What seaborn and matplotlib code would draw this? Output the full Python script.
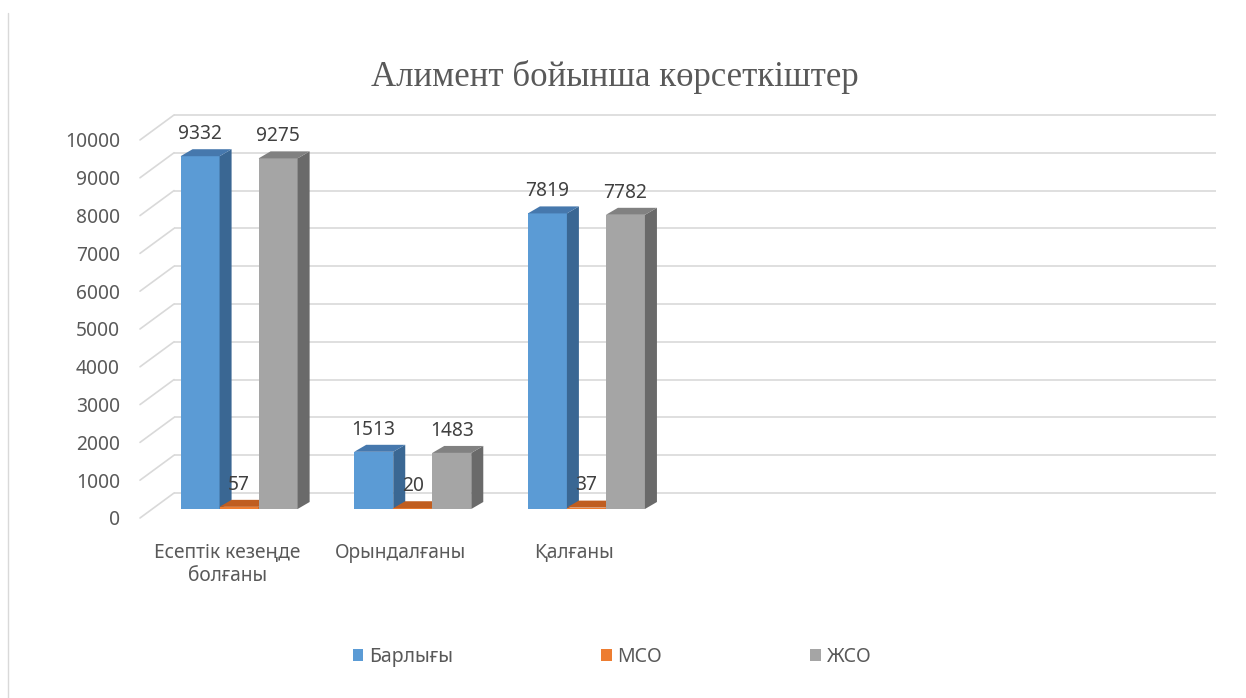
import matplotlib
matplotlib.use('Agg')
import matplotlib.pyplot as plt
import seaborn as sns
import pandas as pd
from matplotlib.patches import Polygon, Patch
from matplotlib.lines import Line2D

# ---- data ----
categories = ['Есептік кезеңде\nболғаны', 'Орындалғаны', 'Қалғаны']
series_names = ['Барлығы', 'МСО', 'ЖСО']
barlygy = [9332, 1513, 7819]
mso = [57, 20, 37]
zhso = [9275, 1483, 7782]
y_ticks = [0, 1000, 2000, 3000, 4000, 5000, 6000, 7000, 8000, 9000, 10000]
title = 'Алимент бойынша көрсеткіштер'

front_colors = ['#5B9BD5', '#ED7D31', '#A5A5A5']
side_colors = ['#3A6793', '#A9531B', '#6A6A6A']
top_colors = ['#4678AD', '#C05D1F', '#818181']

rows = []
for name, vals in zip(series_names, [barlygy, mso, zhso]):
    for c, v in zip(categories, vals):
        rows.append({'cat': c, 'series': name, 'value': v})
df = pd.DataFrame(rows)

sns.set_theme(style='white')
plt.rcParams['font.family'] = ['Noto Sans', 'DejaVu Sans']

W, H = 1246, 698
fig = plt.figure(figsize=(W / 100, H / 100), dpi=100)
fig.patch.set_facecolor('white')
ax = fig.add_axes([140 / W, (H - 518.45) / H, 1076 / W, (518.45 - 104.5) / H])

sns.barplot(data=df, x='cat', y='value', hue='series', order=categories,
            hue_order=series_names, palette=front_colors, width=0.674, gap=0,
            saturation=1, legend=False, errorbar=None, linewidth=0, ax=ax)

# 3D depth geometry (axis units)
DX = 34 / 173.5          # full floor depth in category units
DY = 25 / 0.0378         # full floor depth in value units
T_FRONT, T_BACK = -0.36, 0.64
BDX, BDY = 12 / 173.5, 7 / 0.0378   # bar depth

x_front_left = -0.5 + T_FRONT * DX
x_back_left = -0.5 + T_BACK * DX
x_back_right = 5.5 + T_BACK * DX
FRONT = T_FRONT * DY
BACK = T_BACK * DY

for v in y_ticks:
    ax.plot([x_back_left, x_back_right], [v + BACK, v + BACK], color='#D9D9D9',
            lw=1.2, zorder=1, clip_on=False, solid_capstyle='butt')
    ax.plot([x_front_left, x_back_left], [v + FRONT, v + BACK], color='#D9D9D9',
            lw=1.2, zorder=1, clip_on=False)

containers = list(ax.containers)
for ci, cont in enumerate(containers):
    for bar in cont:
        x0 = bar.get_x()
        w = bar.get_width()
        x1 = x0 + w
        h = bar.get_height()
        bar.set_zorder(3 + ci)
        side = Polygon([(x1, 0), (x1 + BDX, BDY), (x1 + BDX, h + BDY), (x1, h)],
                       closed=True, facecolor=side_colors[ci], edgecolor='none',
                       zorder=3 + ci, clip_on=False)
        top = Polygon([(x0, h), (x0 + BDX, h + BDY), (x1 + BDX, h + BDY), (x1, h)],
                      closed=True, facecolor=top_colors[ci], edgecolor='none',
                      zorder=3 + ci, clip_on=False)
        ax.add_patch(side)
        ax.add_patch(top)
        ax.annotate(f'{int(round(h))}', (x0 + w / 2, h), xytext=(0, 16),
                    textcoords='offset points', ha='center', va='center',
                    fontsize=13.8, color='#404040', zorder=10)

ax.set_xlim(x_front_left, x_back_right)
ax.set_ylim(-250, 10700)
ax.set_yticks([v + FRONT for v in y_ticks], labels=[str(v) for v in y_ticks])
ax.set_xticks([i - 0.069 for i in range(len(categories))], labels=categories)
ax.tick_params(axis='y', length=0, pad=14.4, labelsize=13.8, labelcolor='#595959')
ax.tick_params(axis='x', length=0, pad=18, labelsize=13.8, labelcolor='#595959')
for lbl in ax.get_xticklabels():
    lbl.set_multialignment('center')
ax.set_xlabel('')
ax.set_ylabel('')
for s in ax.spines.values():
    s.set_visible(False)
ax.set_facecolor('none')

fig.text(615 / W, 1 - 86 / H, title, ha='center', va='baseline', fontsize=25,
         family=['Liberation Serif', 'DejaVu Serif'], color='#595959')

handles = [Patch(facecolor=c, edgecolor='none', label=n)
           for c, n in zip(front_colors, series_names)]
fig.legend(handles=handles, loc='center', bbox_to_anchor=(612 / W, 1 - 657 / H),
           ncol=3, frameon=False, fontsize=14, handlelength=0.55, handleheight=0.55,
           handletextpad=0.3, columnspacing=7.6, labelcolor='#595959')

fig.add_artist(Line2D([8 / W, 8 / W], [0, 1 - 13 / H], transform=fig.transFigure,
                      color='#D9D9D9', lw=1))

fig.savefig('out.png', dpi=100)
